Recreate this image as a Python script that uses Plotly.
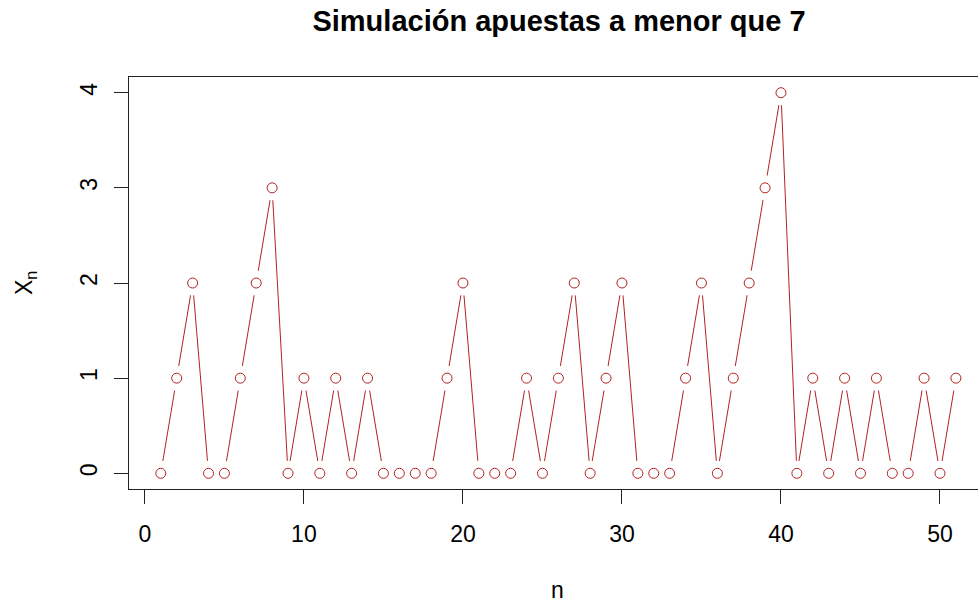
import plotly.graph_objects as go

# Data
n = list(range(1, 52))
xn = [0, 1, 2, 0, 0, 1, 2, 3, 0, 1,
      0, 1, 0, 1, 0, 0, 0, 0, 1, 2,
      0, 0, 0, 1, 0, 1, 2, 0, 1, 2,
      0, 0, 0, 1, 2, 0, 1, 2, 3, 4,
      0, 1, 0, 1, 0, 1, 0, 0, 1, 0,
      1]
x_ticks = [0, 10, 20, 30, 40, 50]
y_ticks = [0, 1, 2, 3, 4]

title_text = "<b>Simulación apuestas a menor que 7</b>"
xlab = "n"
ylab = "X<sub>n</sub>"

RED = "#B22222"
AX = "#222222"
FONT = "Liberation Sans, Arial, sans-serif"

W, H = 978, 603
L, T, B = 129, 77, 114

fig = go.Figure()
# connecting line
fig.add_trace(go.Scatter(x=n, y=xn, mode="lines",
                         line=dict(color=RED, width=1), hoverinfo="skip"))
# white halo to create the gaps of type="b"
fig.add_trace(go.Scatter(x=n, y=xn, mode="markers",
                         marker=dict(symbol="circle", size=25, color="white",
                                     line=dict(width=0)), hoverinfo="skip"))
# open circles
fig.add_trace(go.Scatter(x=n, y=xn, mode="markers",
                         marker=dict(symbol="circle-open", size=10, color=RED,
                                     line=dict(width=1, color=RED))))

fig.update_layout(
    width=W, height=H,
    margin=dict(l=L, r=0, t=T, b=B, pad=0),
    paper_bgcolor="white", plot_bgcolor="white",
    showlegend=False,
    font=dict(family=FONT, color="#000000", size=23),
    title=dict(text=title_text, x=559 / W, xanchor="center",
               y=1 - 21 / H, yanchor="middle", yref="container",
               font=dict(size=29, family=FONT, color="#000000")),
    annotations=[
        dict(text=xlab, xref="paper", yref="paper",
             x=(557 - L) / (W - L), y=-(590 - (H - B)) / (H - T - B),
             xanchor="center", yanchor="middle", showarrow=False,
             font=dict(size=23, family=FONT, color="#000000")),
        dict(text=ylab, xref="paper", yref="paper",
             x=-(L - 25) / (W - L), y=0.5, textangle=-90,
             xanchor="center", yanchor="middle", showarrow=False,
             font=dict(size=23, family=FONT, color="#000000")),
    ],
)

fig.update_xaxes(range=[-1.0, 52.39], tickvals=x_ticks,
                 ticktext=[str(v) for v in x_ticks],
                 showgrid=False, zeroline=False,
                 showline=True, mirror=True, linecolor=AX, linewidth=1,
                 ticks="outside", ticklen=14, tickwidth=1, tickcolor=AX,
                 ticklabelstandoff=10,
                 tickfont=dict(size=23, family=FONT, color="#000000"))
fig.update_yaxes(range=[-0.165, 4.165], tickvals=y_ticks,
                 ticktext=[str(v) for v in y_ticks],
                 showgrid=False, zeroline=False,
                 showline=True, mirror=True, linecolor=AX, linewidth=1,
                 ticks="outside", ticklen=14, tickwidth=1, tickcolor=AX,
                 tickangle=-90, ticklabelstandoff=8,
                 tickfont=dict(size=23, family=FONT, color="#000000"))

fig.write_html("out.html")
